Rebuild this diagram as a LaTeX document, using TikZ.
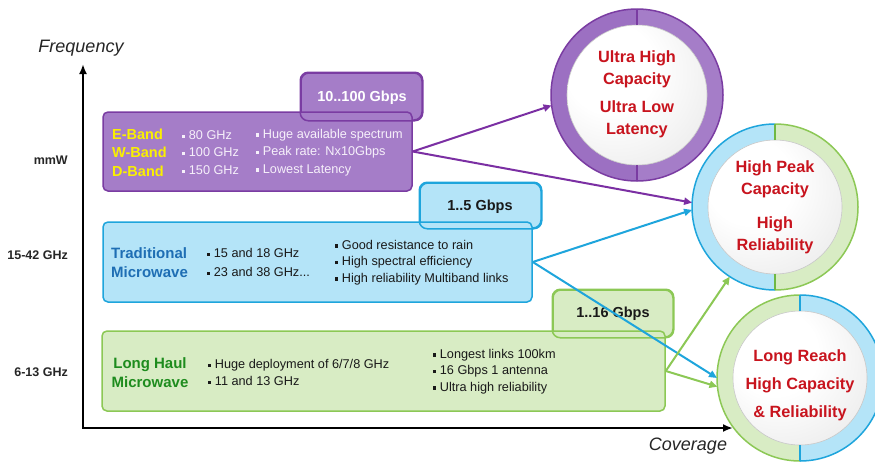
\documentclass[tikz,border=0pt]{standalone}
\usepackage{fontspec}
\setmainfont{Liberation Sans}
\usetikzlibrary{arrows.meta,calc}
\definecolor{pfill}{HTML}{A57DC8}
\definecolor{pfillL}{HTML}{9C70C2}
\definecolor{pline}{HTML}{7A3CA2}
\definecolor{parr}{HTML}{7B2FA3}
\definecolor{bfill}{HTML}{B4E4F8}
\definecolor{bline}{HTML}{1EA5DC}
\definecolor{gfill}{HTML}{D8ECC4}
\definecolor{gline}{HTML}{8CC855}
\definecolor{gtick}{HTML}{6FB844}
\definecolor{btext}{HTML}{1E6EB4}
\definecolor{gtext}{HTML}{1E8C1E}
\definecolor{ytext}{HTML}{FAF000}
\definecolor{rtext}{HTML}{C8141E}
\definecolor{ptext}{HTML}{F6F0FA}
\pgfdeclareradialshading{pearl}{\pgfpoint{-12bp}{12bp}}{color(0bp)=(white); color(16bp)=(white); color(42bp)=(black!9); color(55bp)=(black!30); color(75bp)=(black!34)}
\newcommand{\sqb}{\raisebox{1.6pt}{\rule{3.2pt}{3.2pt}}\hspace{3.5pt}}
\newcommand{\ringhalf}[7]{%
  \fill[#6] ($(#1)+(#2:#4)$) arc[start angle=#2,end angle=#3,radius=#4] -- ($(#1)+(#3:#5)$) arc[start angle=#3,end angle=#2,radius=#5] -- cycle;
  \draw[#7, line width=1.5pt] ($(#1)+(#2:#4)$) arc[start angle=#2,end angle=#3,radius=#4];
}
\begin{document}
\begin{tikzpicture}[x=1pt,y=1pt,
  mainbox/.style={rectangle, rounded corners=5pt, line width=1.5pt, inner sep=0pt},
  ratebox/.style={rectangle, rounded corners=8pt, line width=1.5pt, inner sep=0pt},
  col/.style={inner sep=0pt, anchor=west, align=left},
  ratetext/.style={font=\bfseries\fontsize{14.5}{17}\selectfont, inner sep=0pt},
  circtext/.style={font=\bfseries\fontsize{16.3}{22}\selectfont, text=rtext, align=center, inner sep=0pt},
  axlabel/.style={font=\bfseries\fontsize{12.5}{15}\selectfont, text=black!85, anchor=east, inner sep=0pt},
  axtitle/.style={font=\itshape\fontsize{18}{20}\selectfont, inner sep=0pt, text=black!85},
  outer/.style={circle, inner sep=0pt, outer sep=0pt, minimum size=#1},
  disk/.style={circle, inner sep=0pt, minimum size=#1, shading=pearl, draw=black!22, line width=0.6pt},
  parrow/.style={draw=parr, line width=2pt, -{Triangle[length=8pt,width=7pt]}},
  barrow/.style={draw=bline, line width=2pt, -{Triangle[length=8pt,width=7pt]}},
  garrow/.style={draw=gline, line width=2pt, -{Triangle[length=8pt,width=7pt]}}
]
\useasboundingbox (0,0) rectangle (875,-466);
\clip (0,0) rectangle (875,-466);
\fill[white] (0,0) rectangle (875,-466);

% axes
\coordinate (ytop) at (83,-64);
\coordinate (xend) at (733,-428);
\draw[line width=2.2pt, {Latex[length=10pt,width=8pt]}-{Latex[length=10pt,width=8pt]}] (ytop) |- (xend);
\node[axtitle] (freq) at (81,-48) {Frequency};
\node[axtitle] (cov) at (688,-446) {Coverage};
\node[axlabel] (l1) at (68,-160) {mmW};
\node[axlabel] (l2) at (68,-255) {15-42 GHz};
\node[axlabel] (l3) at (68,-372) {6-13 GHz};

% purple box
\node[ratebox, fill=pfill, draw=pline, minimum width=121pt, minimum height=47pt] (prate) at (361.5,-96.5) {};
\node[mainbox, fill=pfill, draw=pline, minimum width=309pt, minimum height=79pt] (pbox) at (257.5,-151.5) {};
\draw[pline, line width=1.5pt, rounded corners=8pt] (prate.south west) rectangle (prate.north east);
\node[ratetext, text=white] (ptxt) at (362,-98) {10..100 Gbps};
\node[col, font=\bfseries\fontsize{14.5}{18.5}\selectfont, text=ytext] (pc1) at (112,-152.5) {E-Band\\W-Band\\D-Band};
\node[col, font=\fontsize{12.7}{17.5}\selectfont, text=ptext] (pc2) at (182,-152.5) {\sqb 80 GHz\\\sqb 100 GHz\\\sqb 150 GHz};
\node[col, font=\fontsize{12.7}{17.5}\selectfont, text=ptext] (pc3) at (256,-152.5) {\sqb Huge available spectrum\\\sqb Peak rate: Nx10Gbps\\\sqb Lowest Latency};

% blue box
\node[ratebox, fill=bfill, draw=bline, minimum width=121pt, minimum height=45pt] (brate) at (480.5,-205.5) {};
\node[mainbox, fill=bfill, draw=bline, minimum width=429pt, minimum height=80pt] (bbox) at (317.5,-262) {};
\draw[bline, line width=1.5pt, rounded corners=8pt] (brate.south west) rectangle (brate.north east);
\node[ratetext, text=black!90] (btxt) at (480,-207) {1..5 Gbps};
\node[col, font=\bfseries\fontsize{15}{19}\selectfont, text=btext] (bc1) at (111,-263) {Traditional\\Microwave};
\node[col, font=\fontsize{12.7}{19}\selectfont, text=black!90] (bc2) at (207,-262.5) {\sqb 15 and 18 GHz\\\sqb 23 and 38 GHz...};
\node[col, font=\fontsize{12.7}{16.5}\selectfont, text=black!90] (bc3) at (335,-262.5) {\sqb Good resistance to rain\\\sqb High spectral efficiency\\\sqb High reliability Multiband links};

% green box
\node[ratebox, fill=gfill, draw=gline, minimum width=120pt, minimum height=47pt] (grate) at (613,-313.5) {};
\node[mainbox, fill=gfill, draw=gline, minimum width=563pt, minimum height=80pt] (gbox) at (383.5,-371) {};
\draw[gline, line width=1.5pt, rounded corners=8pt] (grate.south west) rectangle (grate.north east);
\node[ratetext, text=black!90] (gtxt) at (613,-314) {1..16 Gbps};
\node[inner sep=0pt, align=center, font=\bfseries\fontsize{15}{19}\selectfont, text=gtext] (gc1) at (150,-372.5) {Long Haul\\Microwave};
\node[col, font=\fontsize{12.7}{17}\selectfont, text=black!90] (gc2) at (208,-372.5) {\sqb Huge deployment of 6/7/8 GHz\\\sqb 11 and 13 GHz};
\node[col, font=\fontsize{12.7}{16.5}\selectfont, text=black!90] (gc3) at (433,-371.5) {\sqb Longest links 100km\\\sqb 16 Gbps 1 antenna\\\sqb Ultra high reliability};

% circle 1
\node[outer=172pt] (c1) at (637,-95) {};
\ringhalf{c1}{90}{270}{86pt}{70pt}{pfillL}{pline}
\ringhalf{c1}{-90}{90}{86pt}{70pt}{pfill}{pline}
\node[disk=140pt] (c1in) at (c1) {};
\draw[pline, line width=1.5pt] ($(c1)+(90:70pt)$) -- ($(c1)+(90:86pt)$);
\draw[pline, line width=1.5pt] ($(c1)+(270:70pt)$) -- ($(c1)+(270:86pt)$);
\node[circtext] (c1a) at (637,-69) {Ultra High\\Capacity};
\node[circtext] (c1b) at (637,-119) {Ultra Low\\Latency};

% circle 2
\node[outer=166pt] (c2) at (775,-207) {};
\ringhalf{c2}{90}{270}{83pt}{67pt}{bfill}{bline}
\ringhalf{c2}{-90}{90}{83pt}{67pt}{gfill}{gline}
\node[disk=134pt] (c2in) at (c2) {};
\draw[gtick, line width=1.5pt] ($(c2)+(90:67pt)$) -- ($(c2)+(90:83pt)$);
\draw[gtick, line width=1.5pt] ($(c2)+(270:67pt)$) -- ($(c2)+(270:83pt)$);
\node[circtext] (c2a) at (775,-179.5) {High Peak\\Capacity};
\node[circtext] (c2b) at (775,-235) {High\\Reliability};

% circle 3
\node[outer=166pt] (c3) at (800,-378) {};
\ringhalf{c3}{90}{270}{83pt}{67pt}{gfill}{gline}
\ringhalf{c3}{-90}{90}{83pt}{67pt}{bfill}{bline}
\node[disk=134pt] (c3in) at (c3) {};
\draw[bline, line width=1.5pt] ($(c3)+(90:67pt)$) -- ($(c3)+(90:83pt)$);
\draw[bline, line width=1.5pt] ($(c3)+(270:67pt)$) -- ($(c3)+(270:83pt)$);
\node[circtext, font=\bfseries\fontsize{16.3}{28}\selectfont] (c3a) at (800,-385) {Long Reach\\High Capacity\\\& Reliability};

% arrows
\draw[parrow] (pbox.east) -- (c1.187);
\draw[parrow] (pbox.east) -- (c2.177);
\draw[barrow] (bbox.east) -- (c2.182);
\draw[barrow] (bbox.east) -- (c3.180);
\draw[garrow] (gbox.east) -- (c2.237);
\draw[garrow] (gbox.east) -- (c3.186);
\end{tikzpicture}
\end{document}
